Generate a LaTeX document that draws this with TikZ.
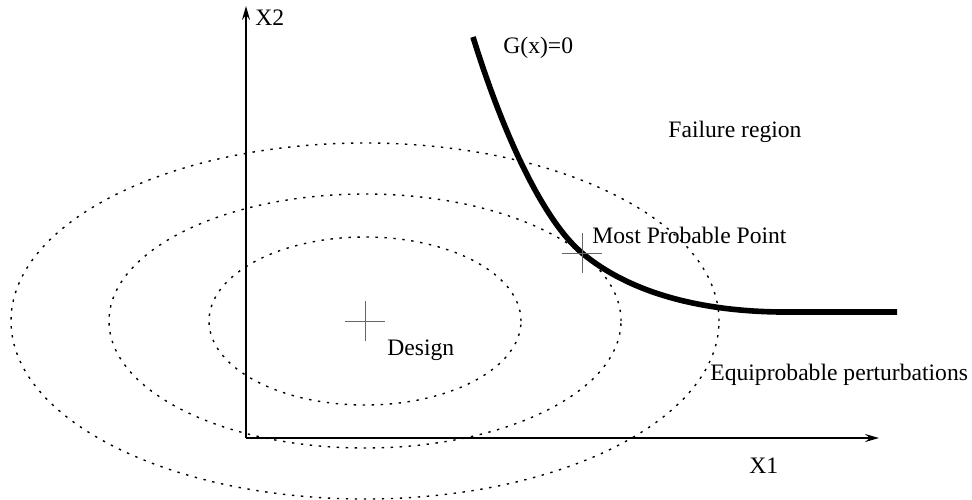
\documentclass[tikz,border=0pt]{standalone}
\usepackage{fontspec}
\setmainfont{Liberation Serif}
\usetikzlibrary{arrows.meta}
\begin{document}
\begin{tikzpicture}[x=0.5pt, y=-0.5pt,
    every node/.style={font=\fontsize{11.8}{13}\selectfont, inner sep=0pt, anchor=base west},
    axis/.style={line width=1pt, -{Stealth[length=7pt, width=4pt, inset=2.5pt]}},
    equi/.style={line width=0.7pt, dash pattern=on 1.2pt off 3.3pt},
    limit/.style={line width=2.8pt},
    crossmark/.style={line width=0.5pt, gray!80!black}]
    \useasboundingbox (0,0) rectangle (972,499);

    \coordinate (origin) at (246,438);
    \coordinate (ytip) at (246,6);
    \coordinate (xtip) at (879,438);
    \coordinate (design) at (365,321);
    \coordinate (mpp) at (582,253);
    \coordinate (gstart) at (473,37);
    \coordinate (gend) at (897,312);

    \draw[equi] (design) ellipse [x radius=78pt, y radius=42pt];
    \draw[equi] (design) ellipse [x radius=128pt, y radius=63.5pt];
    \draw[equi] (design) ellipse [x radius=177pt, y radius=89pt];

    \draw[axis] (origin) -- (ytip);
    \draw[axis] (origin) -- (xtip);

    \draw[limit] (gstart) .. controls (505,140) and (545,222) .. (mpp)
        .. controls (630,293) and (700,311) .. (780,312) -- (gend);

    \draw[crossmark] ([xshift=-10pt]design) -- ([xshift=10pt]design) ([yshift=-10pt]design) -- ([yshift=10pt]design);
    \draw[crossmark] ([xshift=-10pt]mpp) -- ([xshift=10pt]mpp) ([yshift=-10pt]mpp) -- ([yshift=10pt]mpp);

    \node (x2) at (255,25) {X2};
    \node (x1) at (749,473) {X1};
    \node (glabel) at (503,53) {G(x)=0};
    \node (failure) at (668,137) {Failure region};
    \node (mpplabel) at (592,243) {Most Probable Point};
    \node (designlabel) at (387,355) {Design};
    \node (equilabel) at (710,380) {Equiprobable perturbations};
\end{tikzpicture}
\end{document}
